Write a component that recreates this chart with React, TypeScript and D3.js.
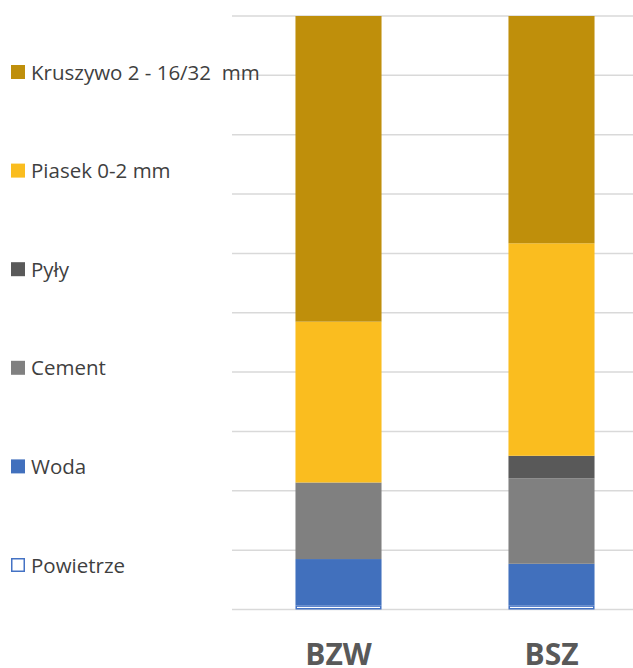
import { useMemo } from 'react';
import * as d3 from 'd3';

const categories = ['BZW', 'BSZ'];
// stack order bottom -> top
const seriesNames = ['Powietrze', 'Woda', 'Cement', 'Pyły', 'Piasek 0-2 mm', 'Kruszywo 2 - 16/32  mm'];
const powietrze = [0.7, 0.7];
const woda = [7.8, 7.0];
const cement = [12.9, 14.4];
const pyly = [0, 3.8];
const piasek = [27.1, 35.8];
const kruszywo = [51.5, 38.3];
const yTicks = d3.range(0, 101, 10);

const fills = ['#ffffff', '#4170bd', '#808080', '#595959', '#fabd1f', '#bf8f0b'];
const strokes = ['#4472c4', 'none', 'none', 'none', 'none', 'none'];

const W = 633;
const H = 668;

export default function App() {
  const rows = useMemo(
    () =>
      categories.map((c, i) => ({
        cat: c,
        [seriesNames[0]]: powietrze[i],
        [seriesNames[1]]: woda[i],
        [seriesNames[2]]: cement[i],
        [seriesNames[3]]: pyly[i],
        [seriesNames[4]]: piasek[i],
        [seriesNames[5]]: kruszywo[i],
      })),
    []
  );

  const stacked = d3.stack<any>().keys(seriesNames)(rows);

  const x = d3.scaleBand().domain(categories).range([232, 658]).padding(0);
  const barW = x.bandwidth() * 0.404;
  const y = d3.scaleLinear().domain([0, 100]).range([609.5, 16]);

  // legend lists top of stack first
  const legendY = d3
    .scalePoint<string>()
    .domain([...seriesNames].reverse())
    .range([72, 565]);

  return (
    <svg
      width={W}
      height={H}
      style={{ position: 'absolute', left: 0, top: 0, background: '#fff' }}
      fontFamily="'Open Sans', sans-serif"
    >
      <g>
        {yTicks.map((t) => (
          <line key={t} x1={232} x2={W} y1={y(t)} y2={y(t)} stroke="#d9d9d9" strokeWidth={1.5} />
        ))}
      </g>
      <g>
        {stacked.map((s, si) => (
          <g key={s.key}>
            {s.map((d, i) => {
              const cx = x(categories[i])! + x.bandwidth() / 2;
              const h = y(d[0]) - y(d[1]);
              if (h <= 0) return null;
              const isOutline = strokes[si] !== 'none';
              return (
                <rect
                  key={i}
                  x={cx - barW / 2 + (isOutline ? 0.75 : 0)}
                  y={y(d[1]) + (isOutline ? 0.75 : 0)}
                  width={barW - (isOutline ? 1.5 : 0)}
                  height={h - (isOutline ? 1.5 : 0)}
                  fill={fills[si]}
                  stroke={strokes[si]}
                  strokeWidth={1.5}
                />
              );
            })}
          </g>
        ))}
      </g>
      <g>
        {categories.map((c) => (
          <text
            key={c}
            x={x(c)! + x.bandwidth() / 2}
            y={665}
            textAnchor="middle"
            fontSize={30}
            fontWeight="bold"
            fill="#595959"
          >
            {c}
          </text>
        ))}
      </g>
      <g>
        {seriesNames.map((name) => {
          const si = seriesNames.indexOf(name);
          const cy = legendY(name)!;
          const outline = strokes[si] !== 'none';
          return (
            <g key={name}>
              <rect
                x={11 + (outline ? 0.75 : 0)}
                y={cy - 7 + (outline ? 0.75 : 0)}
                width={14 - (outline ? 1.5 : 0)}
                height={14 - (outline ? 1.5 : 0)}
                fill={fills[si]}
                stroke={strokes[si]}
                strokeWidth={1.5}
              />
              <text
                x={31}
                y={cy + 7.5}
                fontSize={20.5}
                fill="#3f3f3f"
                style={{ whiteSpace: 'pre' }}
              >
                {name}
              </text>
            </g>
          );
        })}
      </g>
    </svg>
  );
}
